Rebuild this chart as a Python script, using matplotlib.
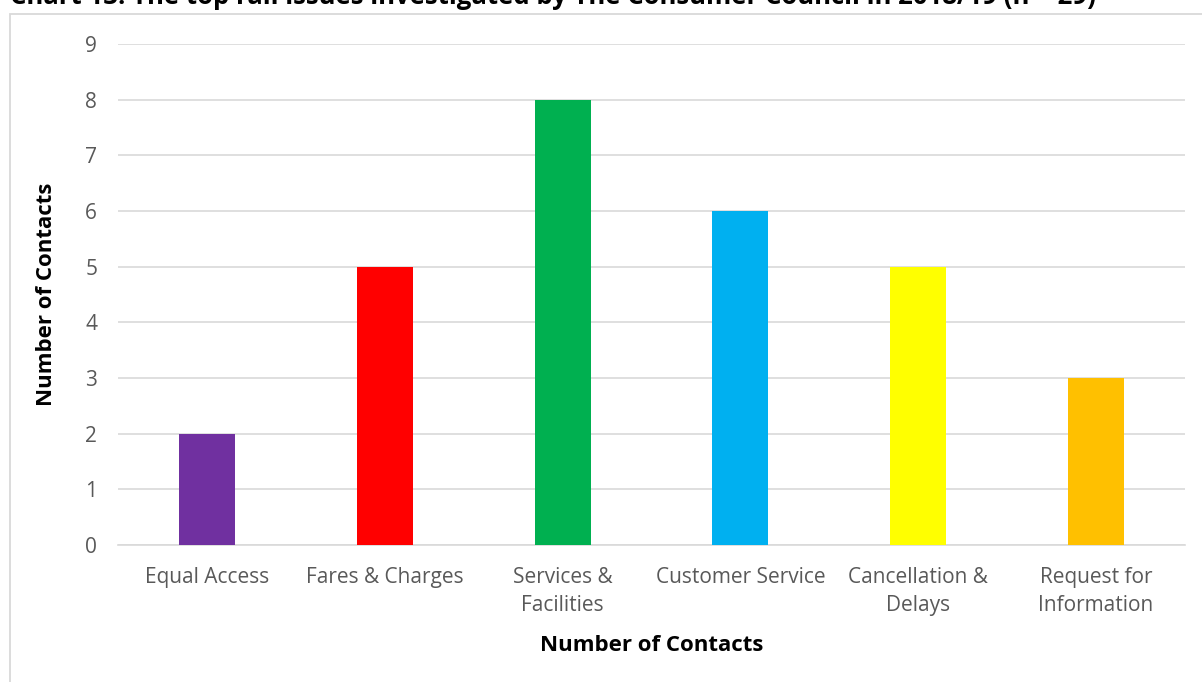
import matplotlib.pyplot as plt
from matplotlib.patches import Rectangle

categories = ["Equal Access", "Fares & Charges", "Services &\nFacilities",
              "Customer Service", "Cancellation &\nDelays", "Request for\nInformation"]
values = [2, 5, 8, 6, 5, 3]
colors = ["#7030A0", "#FF0000", "#00B050", "#00B0F0", "#FFFF00", "#FFC000"]
yticks = list(range(0, 10))
title = "Chart 13: The top rail issues investigated by The Consumer Council in 2018/19 (n = 29)"

plt.rcParams['font.family'] = ['Open Sans', 'DejaVu Sans']

W, H = 1202, 682
fig = plt.figure(figsize=(W / 100, H / 100), dpi=100)

# chart border
fig.patches.append(Rectangle((10 / W, -0.1), 1.2, (H - 14) / H + 0.1,
                             transform=fig.transFigure, fill=False,
                             edgecolor="#d9d9d9", linewidth=1.3))

ax = fig.add_axes([118 / W, 1 - 545 / H, (1185 - 118) / W, (545 - 44) / H])
x = list(range(len(categories)))
ax.bar(x, values, width=0.315, color=colors, zorder=3)
ax.set_xlim(-0.5, len(categories) - 0.5)
ax.set_ylim(0, 9)
ax.set_yticks(yticks)
ax.yaxis.grid(True, color="#d9d9d9", linewidth=1.2, zorder=0)
for s in ["top", "right", "left"]:
    ax.spines[s].set_visible(False)
ax.spines["bottom"].set_color("#d9d9d9")
ax.spines["bottom"].set_linewidth(1.2)
ax.tick_params(axis="both", length=0, colors="#595959", labelsize=15)
ax.tick_params(axis="y", pad=15)
ax.tick_params(axis="x", pad=16)
ax.set_xticks(x)
ax.set_xticklabels(categories, linespacing=1.4)
ax.set_xlabel("Number of Contacts", fontsize=16, fontweight="bold", labelpad=14)
ax.set_ylabel("Number of Contacts", fontsize=16, fontweight="bold", labelpad=20)

fig.text(10 / W, 1 + 3 / H, title, fontsize=18.5, fontweight="bold", ha="left", va="center")

fig.savefig("out.png", dpi=100)
